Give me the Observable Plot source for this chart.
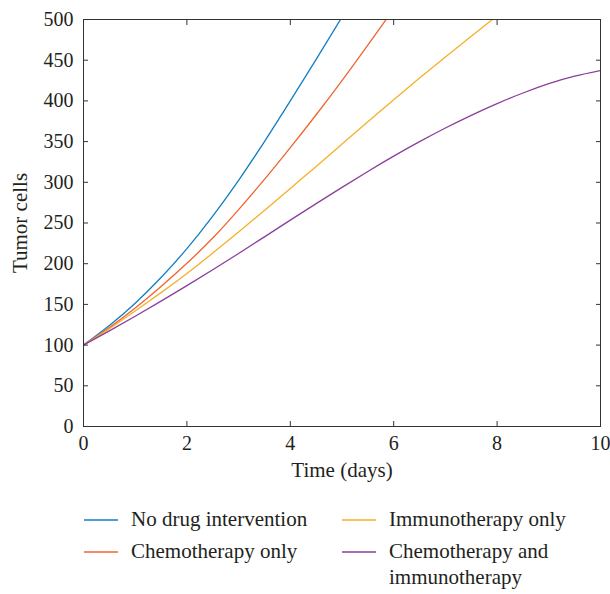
<!DOCTYPE html>
<html><head><meta charset="utf-8">
<script src="https://cdn.jsdelivr.net/npm/d3@7"></script>
<script src="https://cdn.jsdelivr.net/npm/@observablehq/plot@0.6"></script>
<style>
body{margin:0;background:#fff;}
#wrap{position:relative;width:610px;height:594px;font-family:"Liberation Serif",serif;color:#231f20;}
.leg{position:absolute;font-size:21px;line-height:26px;white-space:nowrap;}
.sw{position:absolute;overflow:visible;}
</style></head><body><div id="wrap"></div>
<script>
const days = [0,0.5,1,1.5,2,2.5,3,3.5,4,4.5,5,5.5,6,6.5,7,7.5,8,8.5,9,9.5,10];
const noDrug     = [100,124,151.5,183,218.5,258.5,302.5,350,400,451,503];
const chemoOnly  = [100,121.5,145.5,172,200.5,231.5,266.5,303.5,342.5,383,425,468.5,513];
const immunoOnly = [100,120,142,164.5,188,213,239,265.5,292.5,319.5,347,374.5,401.5,428,454,479.5,504.5];
const combined   = [100,117.5,135.5,154,173,192.5,212.5,233,253.5,273.8,293.8,313.3,332.1,349.9,366.7,382.3,396.7,409.7,421.2,430.4,437.4];
const seriesNames = ["No drug intervention","Chemotherapy only","Immunotherapy only","Chemotherapy and immunotherapy"];
const seriesColors = ["#0f7fc3","#ef6431","#f5b027","#8a3f9b"];
const xTicks = [0,2,4,6,8,10];
const yTicks = [0,50,100,150,200,250,300,350,400,450,500];

const seriesValues = [noDrug, chemoOnly, immunoOnly, combined];
const rows = [];
seriesValues.forEach((vals, s) => vals.forEach((v, i) => rows.push({t: days[i], v, name: seriesNames[s]})));

const ink = "#231f20", frameInk = "#333";
const chart = Plot.plot({
  width: 610, height: 492,
  marginTop: 19, marginBottom: 66, marginLeft: 83, marginRight: 10,
  style: {fontFamily: "'Liberation Serif', serif", fontSize: "20px", color: ink, background: "#fff"},
  x: {domain: [0, 10]},
  y: {domain: [0, 500]},
  color: {domain: seriesNames, range: seriesColors},
  marks: [
    Plot.line(rows, {x: "t", y: "v", stroke: "name", z: "name", strokeWidth: 1.3, curve: "natural", clip: true}),
    Plot.frame({stroke: frameInk}),
    Plot.axisX(xTicks, {anchor: "bottom", tickSize: 0, tickPadding: 9, label: null, fill: ink}),
    Plot.axisX({anchor: "bottom", ticks: [], tickSize: 0, label: "Time (days)", labelAnchor: "center", labelArrow: "none", labelOffset: 50, fill: ink, fontSize: 21}),
    Plot.axisX(xTicks, {anchor: "bottom", tickSize: 5, dy: -5, fill: "none", stroke: frameInk}),
    Plot.axisX(xTicks, {anchor: "top", tickSize: 5, dy: 5, fill: "none", stroke: frameInk}),
    Plot.axisY(yTicks, {anchor: "left", tickSize: 0, tickPadding: 10, label: null, fill: ink}),
    Plot.axisY({anchor: "left", ticks: [], tickSize: 0, label: "Tumor cells", labelAnchor: "center", labelArrow: "none", labelOffset: 71, fill: ink, fontSize: 21, dy: -4}),
    Plot.axisY(yTicks, {anchor: "left", tickSize: 5, dx: 5, fill: "none", stroke: frameInk}),
    Plot.axisY(yTicks, {anchor: "right", tickSize: 5, dx: -5, fill: "none", stroke: frameInk})
  ]
});
const wrap = document.getElementById("wrap");
wrap.appendChild(chart);

// legend (2 columns x 2 rows)
const legendCols = [84, 342];
const legendRows = [520, 552];
const legendLabels = ["No drug intervention","Chemotherapy only","Immunotherapy only","Chemotherapy and<br>immunotherapy"];
const svgNS = "http://www.w3.org/2000/svg";
legendLabels.forEach((lab, i) => {
  const cx = legendCols[Math.floor(i / 2)], cy = legendRows[i % 2];
  const sw = document.createElementNS(svgNS, "svg");
  sw.setAttribute("class", "sw");
  sw.setAttribute("width", "36"); sw.setAttribute("height", "6");
  sw.style.left = cx + "px"; sw.style.top = (cy - 3) + "px";
  const ln = document.createElementNS(svgNS, "line");
  ln.setAttribute("x1", "0"); ln.setAttribute("x2", "34");
  ln.setAttribute("y1", "3"); ln.setAttribute("y2", "3");
  ln.setAttribute("stroke", seriesColors[i]); ln.setAttribute("stroke-width", "1.4");
  sw.appendChild(ln);
  wrap.appendChild(sw);
  const tx = document.createElement("div");
  tx.className = "leg";
  tx.style.left = (cx + 47) + "px"; tx.style.top = (cy - 14) + "px";
  tx.innerHTML = lab;
  wrap.appendChild(tx);
});
</script></body></html>
